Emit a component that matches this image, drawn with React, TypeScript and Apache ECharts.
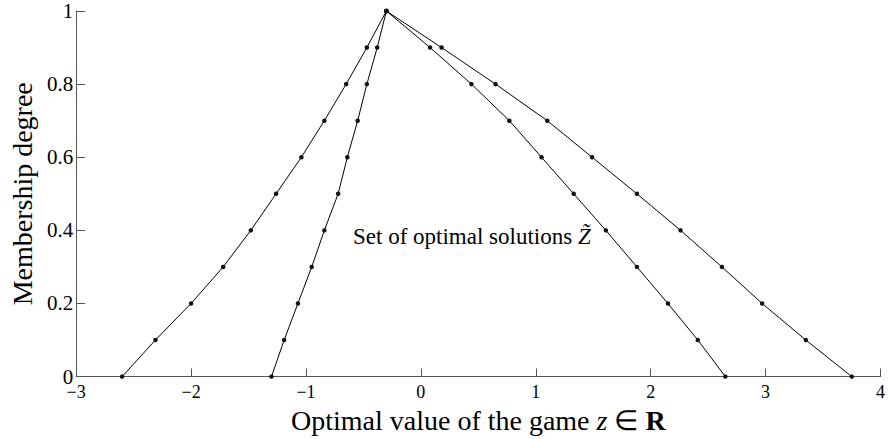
import React, { useEffect, useRef } from "react";
import * as echarts from "echarts";

// Membership levels (y) shared by all four branches
const levels = [0, 0.1, 0.2, 0.3, 0.4, 0.5, 0.6, 0.7, 0.8, 0.9, 1];
// x-values of each branch at those levels
const outerLeft = [-2.6, -2.31, -2.0, -1.72, -1.48, -1.26, -1.04, -0.84, -0.65, -0.47, -0.3];
const innerLeft = [-1.3, -1.19, -1.07, -0.95, -0.84, -0.72, -0.64, -0.55, -0.47, -0.38, -0.3];
const innerRight = [2.65, 2.41, 2.15, 1.88, 1.61, 1.33, 1.05, 0.77, 0.44, 0.08, -0.3];
const outerRight = [3.75, 3.35, 2.97, 2.62, 2.26, 1.88, 1.49, 1.1, 0.65, 0.18, -0.3];

const xTicks = { min: -3, max: 4, interval: 1 };
const yTicks = { min: 0, max: 1, interval: 0.2 };

const annotation = "Set of optimal solutions ";
const xTitle = "Optimal value of the game ";
const yTitle = "Membership degree";

const FONT = "'Liberation Serif', 'Times New Roman', serif";

export default function App() {
  const ref = useRef<HTMLDivElement>(null);
  useEffect(() => {
    if (!ref.current) return;
    const chart = echarts.init(ref.current, null, { renderer: "svg" });
    const branches = [outerLeft, innerLeft, innerRight, outerRight];
    const axisLine = { show: true, onZero: false, lineStyle: { color: "#555", width: 1 } };
    chart.setOption({
      animation: false,
      backgroundColor: "#fff",
      textStyle: { fontFamily: FONT },
      grid: { left: 68, right: 2, top: 11, bottom: 57, containLabel: false },
      xAxis: {
        type: "value",
        min: xTicks.min,
        max: xTicks.max,
        interval: xTicks.interval,
        axisLine,
        axisTick: { show: true, inside: true, length: 8, lineStyle: { color: "#555" } },
        splitLine: { show: false },
        axisLabel: {
          margin: 9,
          fontSize: 18,
          lineHeight: 13,
          color: "#000",
          fontFamily: FONT,
          formatter: (v: number) => String(v).replace("-", "\u2212"),
        },
        name: xTitle + "{i|z} \u2208 {b|R}",
        nameLocation: "middle",
        nameGap: 15,
        nameTextStyle: {
          fontSize: 28,
          color: "#000",
          fontFamily: FONT,
          rich: {
            i: { fontSize: 28, fontStyle: "italic", fontFamily: FONT, color: "#000" },
            b: { fontSize: 28, fontWeight: "bold", fontFamily: FONT, color: "#000" },
          },
        },
      },
      yAxis: {
        type: "value",
        min: yTicks.min,
        max: yTicks.max,
        interval: yTicks.interval,
        axisLine,
        axisTick: { show: true, inside: true, length: 9, lineStyle: { color: "#555" } },
        splitLine: { show: false },
        axisLabel: { margin: 3, fontSize: 21, lineHeight: 13, color: "#000", fontFamily: FONT },
        name: yTitle,
        nameLocation: "middle",
        nameGap: 30,
        nameTextStyle: { fontSize: 28, color: "#000", fontFamily: FONT },
      },
      graphic: [
        {
          type: "text",
          left: 353,
          top: 225,
          style: {
            text: annotation + "{i|Z\u0303}",
            fontSize: 23,
            fontFamily: FONT,
            fill: "#000",
            rich: { i: { fontSize: 23, fontStyle: "italic", fontFamily: FONT, fill: "#000" } },
          },
        },
      ],
      series: branches.map((xs) => ({
        type: "line",
        data: xs.map((x, i) => [x, levels[i]]),
        symbol: "circle",
        symbolSize: 4.5,
        showSymbol: true,
        lineStyle: { color: "#000", width: 1 },
        itemStyle: { color: "#111" },
      })),
    });
    return () => chart.dispose();
  }, []);
  return (
    <div
      ref={ref}
      style={{ position: "fixed", left: 0, top: 0, width: 888, height: 439, background: "#fff" }}
    />
  );
}
